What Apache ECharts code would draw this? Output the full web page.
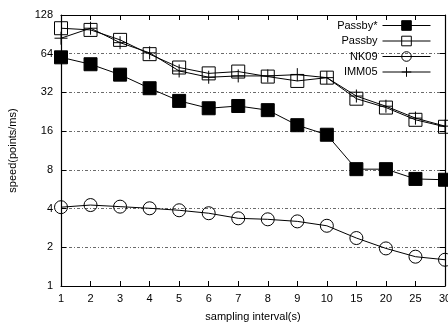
<!DOCTYPE html>
<html>
<head>
<meta charset="utf-8">
<script src="https://cdn.jsdelivr.net/npm/echarts@6/dist/echarts.min.js"></script>
<style>
  html, body { margin: 0; padding: 0; background: #fff; }
  #chart { width: 448px; height: 325px; }
</style>
</head>
<body>
<div id="chart"></div>
<script>
// sampling intervals on x
const intervals = ["1", "2", "3", "4", "5", "6", "7", "8", "9", "10", "15", "20", "25", "30"];
const yTicks = [1, 2, 4, 8, 16, 32, 64, 128];

// speed values (points/ms)
const passbyStar = [60, 53, 44, 34.5, 27.5, 24.1, 25.1, 23.3, 17.8, 15.0, 8.1, 8.1, 6.8, 6.7];
const passby = [101, 98, 82, 63.5, 50, 45, 46.5, 42.5, 39.3, 41.7, 28.6, 24.4, 19.6, 17.3];
const nk09 = [4.1, 4.26, 4.14, 4.02, 3.88, 3.68, 3.36, 3.3, 3.18, 2.94, 2.36, 1.96, 1.69, 1.6];
const imm05 = [84.5, 101, 78, 65, 47, 42, 43, 43, 44, 41.7, 30, 25, 20.2, 17.5];

const font = "'Liberation Sans', Arial, sans-serif";
const plusPath = "path://M6,0L6,12M0,6L12,6";

const chart = echarts.init(document.getElementById("chart"), null, { renderer: "canvas" });

function mkSeries(name, data, symbol, size, fill) {
  return {
    name,
    type: "line",
    data,
    symbol,
    symbolSize: size,
    showSymbol: true,
    lineStyle: { color: "#000", width: 1 },
    itemStyle: { color: fill, borderColor: "#000", borderWidth: 1 },
    emphasis: { disabled: true },
    animation: false,
    z: 3,
  };
}

const legendNames = ["Passby*", "Passby", "NK09", "IMM05"];
const legends = legendNames.map((n, i) => ({
  data: [n],
  right: 17,
  top: 20 + i * 15.5,
  align: "right",
  orient: "vertical",
  itemWidth: 48,
  itemHeight: 12,
  itemGap: 0,
  padding: 0,
  selectedMode: false,
  lineStyle: { width: 1, color: "#000" },
  itemStyle: { borderWidth: 1 },
  textStyle: { fontFamily: font, fontSize: 11, color: "#000", padding: [0, 0, 0, 0] },
}));

chart.setOption({
  backgroundColor: "#fff",
  animation: false,
  textStyle: { fontFamily: font },
  grid: { left: 61, top: 15, right: 3, bottom: 39, containLabel: false, outerBoundsMode: "none" },
  legend: legends,
  xAxis: [
    {
      type: "category",
      data: intervals,
      boundaryGap: false,
      name: "sampling interval(s)",
      nameLocation: "middle",
      nameGap: 25,
      nameTextStyle: { fontFamily: font, fontSize: 11, color: "#000" },
      axisLine: { lineStyle: { color: "#000", width: 1.2 } },
      axisTick: { inside: true, length: 5, lineStyle: { color: "#000" } },
      axisLabel: { color: "#000", fontSize: 11, fontFamily: font, margin: 7, hideOverlap: false },
      splitLine: { show: false },
    },
    {
      type: "category",
      data: intervals,
      boundaryGap: false,
      position: "top",
      axisLine: { lineStyle: { color: "#000", width: 1.2 } },
      axisTick: { inside: true, length: 5, lineStyle: { color: "#000" } },
      axisLabel: { show: false },
      splitLine: { show: false },
    },
  ],
  yAxis: [
    {
      type: "log",
      logBase: 2,
      min: 1,
      max: 128,
      name: "speed(points/ms)",
      nameLocation: "middle",
      nameGap: 43,
      nameTextStyle: { fontFamily: font, fontSize: 11, color: "#000" },
      axisLine: { show: true, lineStyle: { color: "#000", width: 1.2 } },
      axisTick: { show: true, inside: true, length: 5, lineStyle: { color: "#000" } },
      axisLabel: {
        color: "#000",
        fontSize: 11,
        fontFamily: font,
        margin: 8,
        formatter: (v) => (yTicks.includes(Math.round(v)) ? String(Math.round(v)) : ""),
      },
      splitLine: { show: true, lineStyle: { color: "#444", width: 0.8, type: [3, 2, 1, 2] } },
    },
    {
      type: "log",
      logBase: 2,
      min: 1,
      max: 128,
      position: "right",
      axisLine: { show: true, lineStyle: { color: "#000", width: 1.2 } },
      axisTick: { show: true, inside: true, length: 5, lineStyle: { color: "#000" } },
      axisLabel: { show: false },
      splitLine: { show: false },
    },
  ],
  series: [
    mkSeries("Passby*", passbyStar, "rect", 13, "#000"),
    mkSeries("Passby", passby, "rect", 13, "transparent"),
    mkSeries("NK09", nk09, "circle", 13, "transparent"),
    mkSeries("IMM05", imm05, plusPath, 13, "transparent"),
  ],
});
</script>
</body>
</html>
